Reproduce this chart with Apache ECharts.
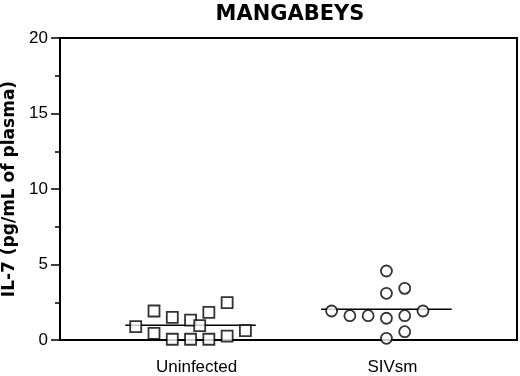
<!DOCTYPE html>
<html>
<head>
<meta charset="utf-8">
<script src="https://cdn.jsdelivr.net/npm/echarts@6/dist/echarts.min.js"></script>
<style>html,body{margin:0;padding:0;background:#fff}#c{width:520px;height:376px}</style>
</head>
<body>
<div id="c"></div>
<script>
var categories = ['Uninfected', 'SIVsm'];
var categoryPositions = [1, 2.5];
var yTicks = [0, 5, 10, 15, 20];
// jitter offsets (horizontal spread of dots within a group) and values
var uninfectedOffsets = [-0.42, -0.28, -0.28, -0.14, -0.14, 0, 0, 0.07, 0.14, 0.14, 0.28, 0.28, 0.42];
var uninfectedValues  = [0.88, 1.92, 0.44, 1.50, 0.05, 1.32, 0.05, 0.95, 1.83, 0.05, 2.47, 0.26, 0.62];
var sivOffsets = [-0.42, -0.28, -0.14, 0, 0, 0, 0, 0.14, 0.14, 0.14, 0.28];
var sivValues  = [1.92, 1.61, 1.61, 4.57, 3.09, 1.44, 0.11, 3.42, 1.61, 0.55, 1.92];
var meanValues = [0.97, 2.03];
var meanHalfWidth = 0.5;

function pts(pos, offs, vals) {
  return vals.map(function (v, i) { return [pos + offs[i], v]; });
}
var chart = echarts.init(document.getElementById('c'), null, {renderer: 'canvas'});
var meanSeries = categories.map(function (c, i) {
  return {
    type: 'line', symbol: 'none', silent: true, z: 1,
    lineStyle: {color: '#000', width: 1.5},
    data: [[categoryPositions[i] - meanHalfWidth, meanValues[i]], [categoryPositions[i] + meanHalfWidth, meanValues[i]]]
  };
});
chart.setOption({
  animation: false,
  title: {
    text: 'MANGABEYS', left: 285, top: -1, textAlign: 'center',
    textStyle: {fontFamily: 'DejaVu Sans', fontWeight: 'bold', fontSize: 21, color: '#000'}
  },
  grid: {left: 60, top: 38, right: 3, bottom: 36, show: true, borderColor: '#000', borderWidth: 2,
         backgroundColor: 'transparent', containLabel: false, outerBoundsMode: 'none'},
  xAxis: {
    type: 'value', min: 0, max: 3.5, interval: 0.5,
    axisLine: {show: true, lineStyle: {color: '#000', width: 2}},
    axisTick: {show: false}, splitLine: {show: false},
    axisLabel: {
      margin: 19, fontFamily: 'Liberation Sans', fontSize: 17, color: '#000', padding: [0, 0, 0, 12],
      formatter: function (v) {
        var k = categoryPositions.indexOf(v);
        return k >= 0 ? categories[k] : '';
      }
    }
  },
  yAxis: {
    type: 'value', min: yTicks[0], max: yTicks[yTicks.length - 1], interval: 5,
    name: 'IL-7 (pg/mL of plasma)', nameLocation: 'middle', nameRotate: 90, nameGap: 38,
    nameTextStyle: {fontFamily: 'DejaVu Sans', fontWeight: 'bold', fontSize: 17, color: '#000'},
    axisLine: {show: true, lineStyle: {color: '#000', width: 2}},
    axisTick: {show: true, length: 9, lineStyle: {color: '#000', width: 1.5}},
    minorTick: {show: true, splitNumber: 2, length: 5, lineStyle: {color: '#000', width: 1.5}},
    splitLine: {show: false},
    axisLabel: {margin: 12, fontFamily: 'Liberation Sans', fontSize: 17, color: '#000'}
  },
  series: meanSeries.concat([
    {
      type: 'scatter', symbol: 'rect', symbolSize: 11, z: 3,
      itemStyle: {color: '#fff', borderColor: '#000', borderWidth: 1.8},
      data: pts(categoryPositions[0], uninfectedOffsets, uninfectedValues)
    },
    {
      type: 'scatter', symbol: 'circle', symbolSize: 11, z: 3,
      itemStyle: {color: '#fff', borderColor: '#000', borderWidth: 1.8},
      data: pts(categoryPositions[1], sivOffsets, sivValues)
    }
  ])
});
</script>
</body>
</html>
